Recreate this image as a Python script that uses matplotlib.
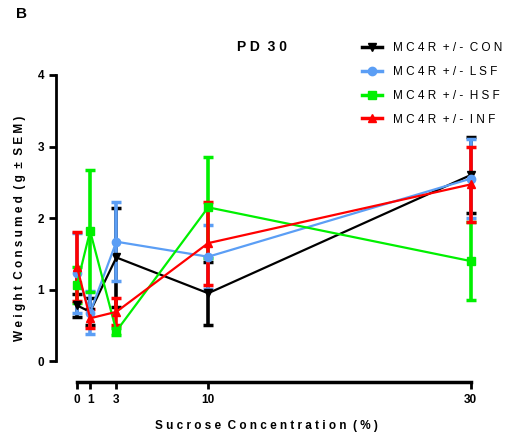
import matplotlib
matplotlib.use("Agg")
import matplotlib.pyplot as plt
from matplotlib.lines import Line2D

plt.rcParams['font.family'] = ['Liberation Sans', 'DejaVu Sans']

sucrose = [0, 1, 3, 10, 30]

con_mean = [0.78, 0.69, 1.45, 0.95, 2.60]
con_sem = [0.16, 0.19, 0.69, 0.44, 0.53]
lsf_mean = [1.23, 0.68, 1.67, 1.46, 2.55]
lsf_sem = [0.56, 0.30, 0.55, 0.45, 0.55]
hsf_mean = [1.07, 1.82, 0.42, 2.15, 1.40]
hsf_sem = [0.25, 0.85, 0.05, 0.71, 0.55]
inf_mean = [1.32, 0.60, 0.69, 1.65, 2.47]
inf_sem = [0.48, 0.13, 0.19, 0.58, 0.52]

groups = ["MC4R +/- CON", "MC4R +/- LSF", "MC4R +/- HSF", "MC4R +/- INF"]
colors = ["black", "#5B9EF5", "#00F000", "#FF0000"]
markers = ["v", "o", "s", "^"]
xticks = [0, 1, 3, 10, 30]
yticks = [0, 1, 2, 3, 4]


def spaced(s):
    # GraphPad style letter spacing
    return "  ".join(" ".join(w) for w in s.split(" "))


fig = plt.figure(figsize=(5.11, 4.38), dpi=100)
ax = fig.add_axes([0.1096, 0.1279, 0.824, 0.701])

means = [con_mean, lsf_mean, hsf_mean, inf_mean]
sems = [con_sem, lsf_sem, hsf_sem, inf_sem]
for m, s, c, mk in zip(means, sems, colors, markers):
    ax.errorbar(sucrose, m, yerr=s, color=c, marker=mk, markersize=6,
                linewidth=1.6, elinewidth=2.6, capsize=3.5, capthick=2.5,
                clip_on=False)

ax.set_xlim(-1.6, 30.5)
ax.set_ylim(-0.29, 4)
ax.spines['top'].set_visible(False)
ax.spines['right'].set_visible(False)
ax.spines['left'].set_bounds(0, 4)
ax.spines['bottom'].set_bounds(0, 30)
ax.spines['left'].set_linewidth(2)
ax.spines['bottom'].set_linewidth(2.5)
ax.set_xticks(xticks)
ax.set_yticks(yticks)
ax.tick_params(axis='both', direction='out', length=5, width=2, labelsize=8.5)
for lab in ax.get_xticklabels() + ax.get_yticklabels():
    lab.set_fontweight('bold')

ax.set_xlabel(spaced("Sucrose Concentration (%)"), fontsize=8.5,
              fontweight='bold', labelpad=10)
ax.set_ylabel(spaced("Weight Consumed (g ± SEM)"), fontsize=8.5,
              fontweight='bold', labelpad=8)

fig.text(0.513, 0.893, spaced("PD 30"), fontsize=10, fontweight='bold',
         ha='center', va='center')
fig.text(0.043, 0.968, "B", fontsize=11, fontweight='bold',
         ha='center', va='center')

handles = [Line2D([0], [0], color=c, marker=mk, markersize=6, linewidth=2.5)
           for c, mk in zip(colors, markers)]
fig.legend(handles, [spaced(g) for g in groups], loc='upper left',
           bbox_to_anchor=(0.688, 0.928), frameon=False, fontsize=8.5,
           handlelength=1.7, handletextpad=0.9, labelspacing=1.0)

fig.savefig("out.png", dpi=100)
